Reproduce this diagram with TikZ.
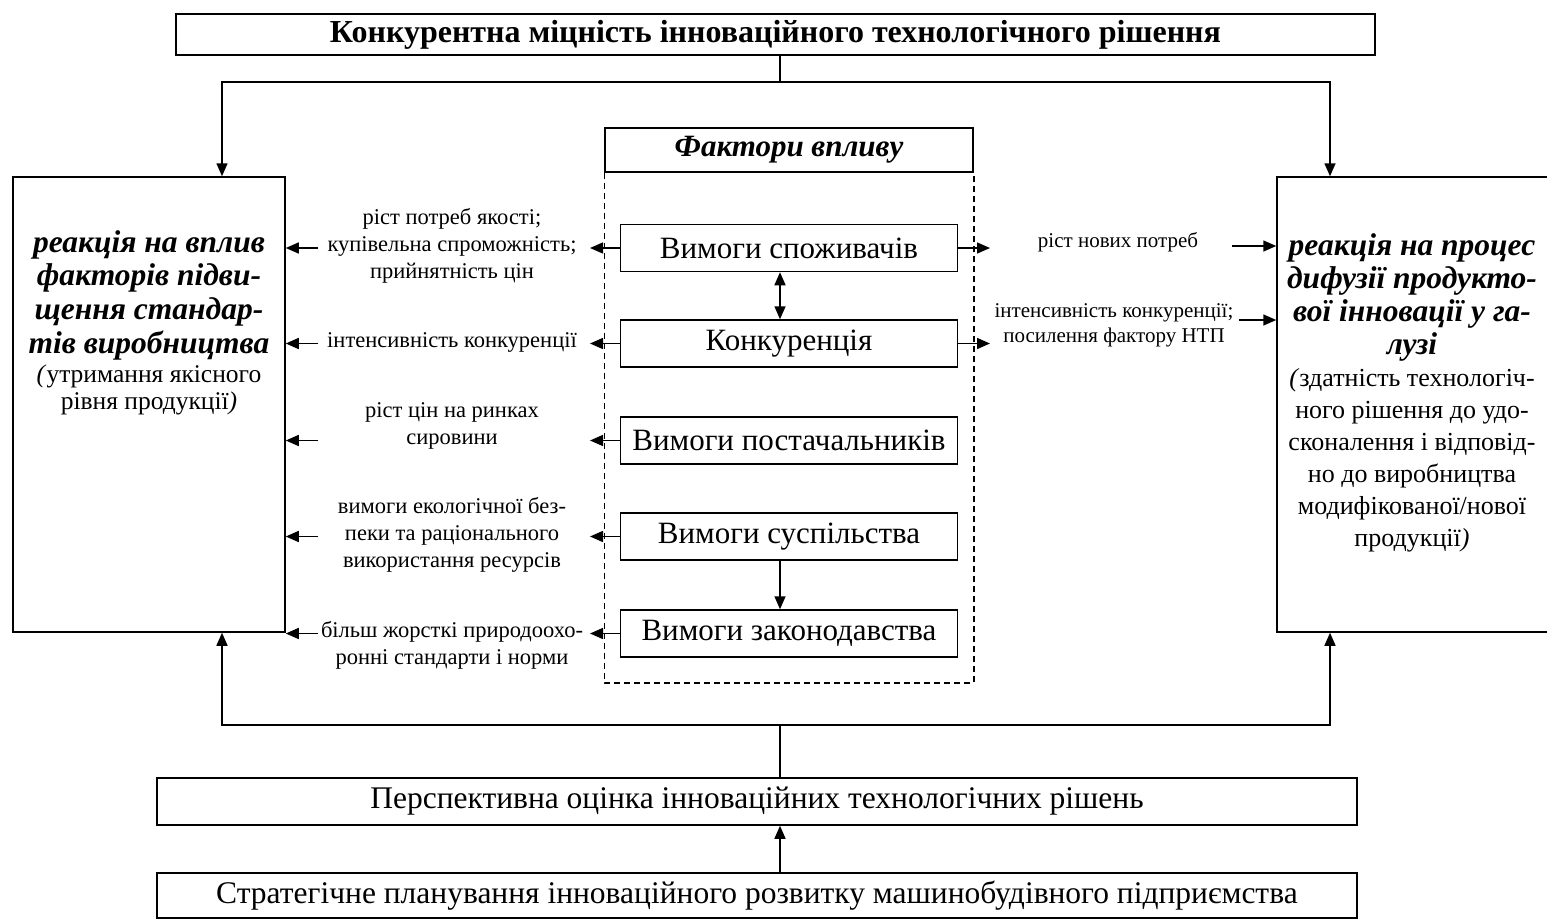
\documentclass[tikz,border=0pt]{standalone}
\usepackage{fontspec}
\setmainfont{Liberation Serif}
\usetikzlibrary{arrows.meta}
\begin{document}
\begin{tikzpicture}[x=1pt,y=-1pt,
  box/.style={draw,line width=1.5pt,inner sep=0pt,minimum height=47pt},
  fbox/.style={box,minimum width=337pt,font=\fontsize{31}{35}\selectfont},
  arr/.style={line width=1.5pt,-{Triangle[length=13pt,width=11pt]}},
  ln/.style={line width=1.5pt},
  lbl/.style={align=center,inner sep=0pt,font=\fontsize{22.5}{27}\selectfont},
  rlbl/.style={align=center,inner sep=0pt,font=\fontsize{21}{25}\selectfont}]
\useasboundingbox (0,0) rectangle (1547,919);
% top
\node[box,minimum width=1199pt,minimum height=41pt,font=\bfseries\fontsize{32}{36}\selectfont] (top) at (775.5,34.5) {Конкурентна міцність інноваційного технологічного рішення};
\coordinate (trunk) at (780,82);
\coordinate (tl) at (222,82);
\coordinate (tr) at (1330,82);
% side boxes
\node[box,minimum width=272pt,minimum height=455pt] (lbox) at (149,404.5) {};
\node[box,minimum width=283pt,minimum height=455pt] (rbox) at (1418.5,404.5) {};
\node[align=center,inner sep=0pt,font=\bfseries\itshape\fontsize{31.5}{33.7}\selectfont] (ltxt) at (149,295) {реакція на вплив\\факторів підви-\\щення стандар-\\тів виробництва};
\node[align=center,inner sep=0pt,font=\fontsize{25.5}{27}\selectfont] (lsub) at (149,390) {\textit{(}утримання якісного\\рівня продукції\textit{)}};
\node[align=center,inner sep=0pt,font=\bfseries\itshape\fontsize{31.5}{33}\selectfont] (rtxt) at (1412,297) {реакція на процес\\дифузії продукто-\\вої інновації у га-\\лузі};
\node[align=center,inner sep=0pt,font=\fontsize{26}{32}\selectfont] (rsub) at (1412,460) {\textit{(}здатність технологіч-\\ного рішення до удо-\\сконалення і відповід-\\но до виробництва\\модифікованої/нової\\продукції\textit{)}};
% factors
\node[box,minimum width=368pt,minimum height=44pt,font=\bfseries\itshape\fontsize{31}{35}\selectfont] (fhead) at (789,150) {Фактори впливу};
\draw[line width=1.5pt,dash pattern=on 6pt off 4pt] (fhead.south west) -- ++(0,510) -| (fhead.south east);
\node[fbox] (b1) at (789,248) {Вимоги споживачів};
\node[fbox] (b2) at (789,343.5) {Конкуренція};
\node[fbox] (b3) at (789,440.5) {Вимоги постачальників};
\node[fbox] (b4) at (789,536.5) {Вимоги суспільства};
\node[fbox] (b5) at (789,633.5) {Вимоги законодавства};
\coordinate (dl) at (590,0);
\coordinate (dr) at (990,0);
\coordinate (la) at (318,0);
\coordinate (mid) at (780,0);
% top connectors
\draw[ln] (top.south -| trunk) -- (trunk);
\draw[arr] (trunk) -- (tl) -- (lbox.north -| tl);
\draw[arr] (trunk) -- (tr) -- (rbox.north -| tr);
% inner vertical
\draw[line width=1.5pt,{Triangle[length=13pt,width=11pt]}-{Triangle[length=13pt,width=11pt]}] (b1.south -| mid) -- (b2.north -| mid);
\draw[arr] (b4.south -| mid) -- (b5.north -| mid);
% left arrows from factors
\foreach \b in {b1,b2,b3,b4,b5}{
  \draw[arr] (\b.west) -- (\b.west -| dl);
  \draw[arr] (la |- \b) -- (lbox.east |- \b);
}
\draw[arr] (b1.east) -- (b1.east -| dr);
\draw[arr] (b2.east) -- (b2.east -| dr);
% left labels
\node[lbl] (l1) at (452,246) {ріст потреб якості;\\купівельна спроможність;\\прийнятність цін};
\node[lbl] (l2) at (452,342) {інтенсивність конкуренції};
\node[lbl] (l3) at (452,426) {ріст цін на ринках\\сировини};
\node[lbl] (l4) at (452,535) {вимоги екологічної без-\\пеки та раціонального\\використання ресурсів};
\node[lbl] (l5) at (452,645) {більш жорсткі природоохо-\\ронні стандарти і норми};
% right labels
\node[rlbl] (r1) at (1118,242) {ріст нових потреб};
\node[rlbl] (r2) at (1114,325) {інтенсивність конкуренції;\\посилення фактору НТП};
\coordinate (ra1) at (1232,246);
\coordinate (ra2) at (1239,320);
\draw[arr] (ra1) -- (rbox.west |- ra1);
\draw[arr] (ra2) -- (rbox.west |- ra2);
% bottom
\node[box,minimum width=1200pt,minimum height=47pt,font=\fontsize{31.5}{36}\selectfont] (persp) at (757,801.5) {Перспективна оцінка інноваційних технологічних рішень};
\node[box,minimum width=1200pt,minimum height=45pt,font=\fontsize{31.5}{36}\selectfont] (strat) at (757,895.5) {Стратегічне планування інноваційного розвитку машинобудівного підприємства};
\coordinate (btrunk) at (780,725);
\coordinate (bl) at (222,725);
\coordinate (br) at (1330,725);
\draw[ln] (persp.north -| btrunk) -- (btrunk);
\draw[arr] (btrunk) -- (bl) -- (lbox.south -| bl);
\draw[arr] (btrunk) -- (br) -- (rbox.south -| br);
\draw[arr] (strat.north -| btrunk) -- (persp.south -| btrunk);
\end{tikzpicture}
\end{document}
